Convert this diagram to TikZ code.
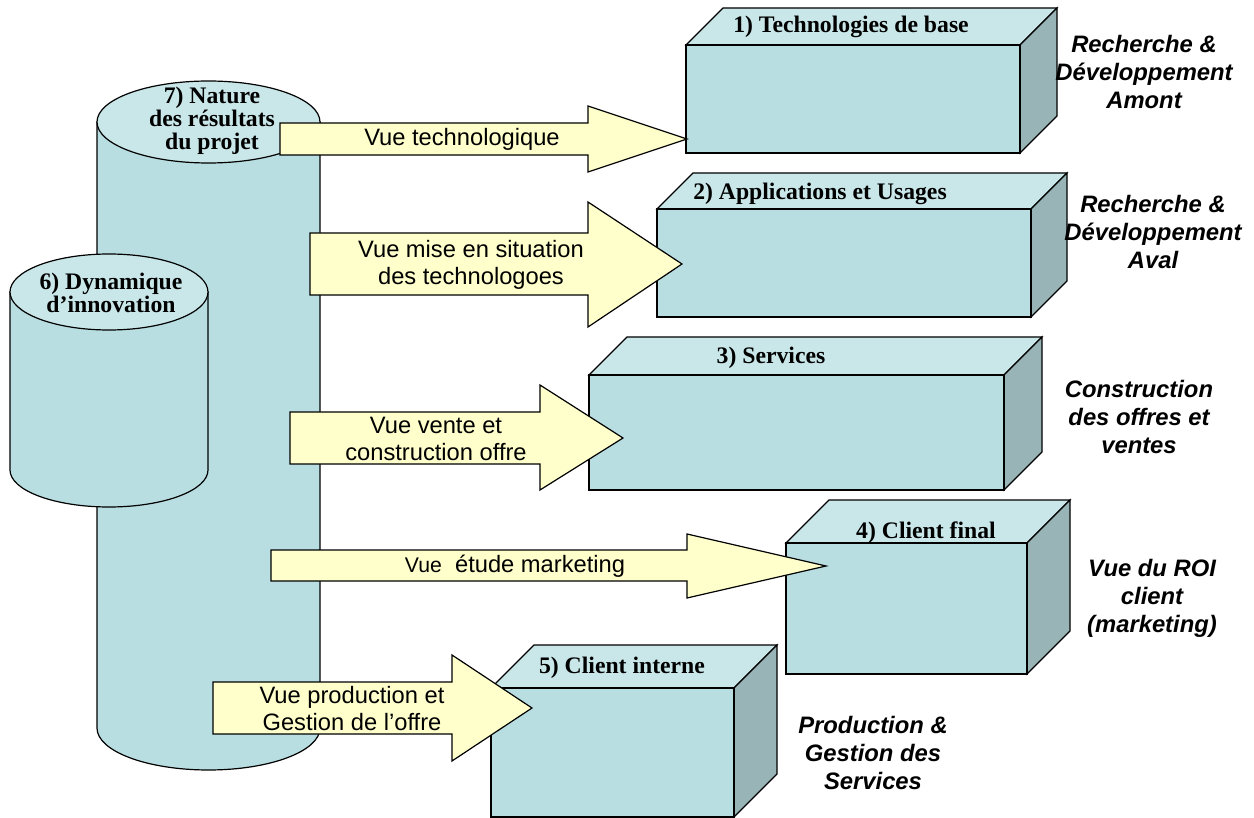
\documentclass[tikz,border=0pt]{standalone}
\usepackage{fontspec}
\setmainfont{Liberation Serif}
\setsansfont{Liberation Sans}
\definecolor{cyanfront}{RGB}{184,222,226}
\definecolor{cyantop}{RGB}{201,231,233}
\definecolor{cyanside}{RGB}{152,180,183}
\definecolor{paleyellow}{RGB}{255,255,204}

\begin{document}
\begin{tikzpicture}[x=0.5pt,y=-0.5pt,line width=0.6pt,
    front/.style={draw=black,fill=cyanfront},
    topface/.style={draw=black,fill=cyantop},
    sideface/.style={draw=black,fill=cyanside},
    bigarrow/.style={draw=black,fill=paleyellow}]

    \useasboundingbox (0,0) rectangle (1254,818);

    % Cylinders
    \filldraw[front] (97,122) -- (97,728) arc[start angle=180,end angle=0,x radius=111.5,y radius=42] -- (320,122) -- cycle;
    \filldraw[topface] (208.5,122) ellipse [x radius=111.5,y radius=41];
    \filldraw[front] (10,292) -- (10,470) arc[start angle=180,end angle=0,x radius=99,y radius=37] -- (208,292) -- cycle;
    \filldraw[topface] (109,292) ellipse [x radius=99,y radius=38];

    % Boxes
    \filldraw[topface] (686,45) -- (723,8) -- (1057,8) -- (1020,45) -- cycle;
    \filldraw[sideface] (1020,45) -- (1057,8) -- (1057,116) -- (1020,153) -- cycle;
    \filldraw[front] (686,45) rectangle (1020,153);

    \filldraw[topface] (657,209) -- (693,173) -- (1067,173) -- (1031,209) -- cycle;
    \filldraw[sideface] (1031,209) -- (1067,173) -- (1067,281) -- (1031,317) -- cycle;
    \filldraw[front] (657,209) rectangle (1031,317);

    \filldraw[topface] (589,375) -- (627,337) -- (1042,337) -- (1004,375) -- cycle;
    \filldraw[sideface] (1004,375) -- (1042,337) -- (1042,452) -- (1004,490) -- cycle;
    \filldraw[front] (589,375) rectangle (1004,490);

    \filldraw[topface] (786,543) -- (829,500) -- (1070,500) -- (1027,543) -- cycle;
    \filldraw[sideface] (1027,543) -- (1070,500) -- (1070,631) -- (1027,674) -- cycle;
    \filldraw[front] (786,543) rectangle (1027,674);

    \filldraw[topface] (491,688) -- (534,645) -- (777,645) -- (734,688) -- cycle;
    \filldraw[sideface] (734,688) -- (777,645) -- (777,774) -- (734,817) -- cycle;
    \filldraw[front] (491,688) rectangle (734,817);

    % Arrows
    \filldraw[bigarrow] (280,123) -- (588,123) -- (588,106) -- (687,139) -- (588,172) -- (588,155) -- (280,155) -- cycle;
    \filldraw[bigarrow] (310,233) -- (588,233) -- (588,202) -- (682,264) -- (588,327) -- (588,295) -- (310,295) -- cycle;
    \filldraw[bigarrow] (290,412) -- (540,412) -- (540,385) -- (623,438) -- (540,490) -- (540,464) -- (290,464) -- cycle;
    \filldraw[bigarrow] (271,550) -- (687,550) -- (687,534) -- (826,566) -- (687,598) -- (687,581) -- (271,581) -- cycle;
    \filldraw[bigarrow] (213,682) -- (452,682) -- (452,655) -- (532,708) -- (452,761) -- (452,734) -- (213,734) -- cycle;

    \begin{scope}[every node/.style={inner sep=0pt,align=center,font={\bfseries\fontsize{11.85}{11.5}\selectfont}}]
        \node (nature) at (212,121) {7) Nature\\des résultats\\du projet};
        \node (dynamique) at (111,293) {6) Dynamique\\d’innovation};
        \node (box1) at (851,27) {1) Technologies de base};
        \node (box2) at (820,194) {2) Applications et Usages};
        \node (box3) at (771,358) {3) Services};
        \node (box4) at (926,533) {4) Client final};
        \node (box5) at (622,668) {5) Client interne};
    \end{scope}

    \begin{scope}[every node/.style={inner sep=0pt,align=center,font={\sffamily\fontsize{11.85}{13.5}\selectfont}}]
        \node (vue1) at (462,139) {Vue technologique};
        \node (vue2) at (471,265) {Vue mise en situation\\des technologoes};
        \node (vue3) at (436,439) {Vue vente et\\construction offre};
        \node (vue4) at (515,566) {{\fontsize{10.6}{12}\selectfont Vue}\ \ étude marketing};
        \node (vue5) at (352,709) {Vue production et\\Gestion de l’offre};
    \end{scope}

    \begin{scope}[every node/.style={inner sep=0pt,align=center,font={\sffamily\bfseries\itshape\fontsize{11.9}{14}\selectfont}}]
        \node (amont) at (1144,72) {Recherche \&\\Développement\\Amont};
        \node (aval) at (1153,232) {Recherche \&\\Développement\\Aval};
        \node (offres) at (1139,417) {Construction\\des offres et\\ventes};
        \node (roi) at (1152,598) {Vue du ROI\\client\\(marketing)};
        \node (production) at (873,753) {Production \&\\Gestion des\\Services};
    \end{scope}

\end{tikzpicture}
\end{document}
